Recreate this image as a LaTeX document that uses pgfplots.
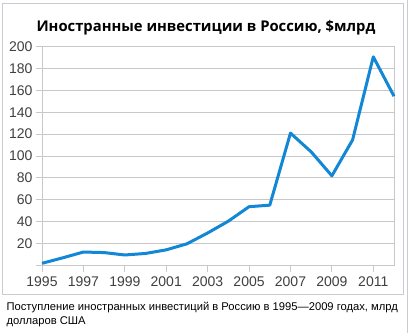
\documentclass[border=0pt]{standalone}
\usepackage{pgfplots}
\pgfplotsset{compat=1.18}
\usepackage{fontspec}
\setmainfont{Liberation Sans}
\newfontfamily\titlefont{Open Sans}
\definecolor{lineblue}{HTML}{1287D6}
\definecolor{gridgray}{HTML}{C8C8C8}
\definecolor{labelgray}{HTML}{404040}
\definecolor{framegray}{HTML}{C8CCD1}
\pgfplotstableread{
year value
1995 2.0
1996 7.0
1997 12.3
1998 11.8
1999 9.6
2000 11.0
2001 14.3
2002 19.8
2003 29.7
2004 40.5
2005 53.7
2006 55.1
2007 120.9
2008 103.8
2009 81.9
2010 114.7
2011 190.6
2012 154.6
}\datatable
\begin{document}
\begin{tikzpicture}
\fill[white] (0pt,0pt) rectangle (413pt,332pt);
\draw[framegray, line width=1pt] (2.5pt,38pt) rectangle (403pt,329pt);
\draw[framegray, line width=1pt] (407.5pt,0pt) -- (407.5pt,332pt);
\begin{axis}[
  at={(42pt,67pt)}, anchor=south west,
  scale only axis, width=352pt, height=219pt,
  xmin=1995, xmax=2012, ymin=0, ymax=200,
  xtick={1995,1997,...,2011},
  ytick={0,20,...,200},
  yticklabels={,20,40,60,80,100,120,140,160,180,200},
  tick align=outside, xtick pos=bottom, ytick pos=left,
  major tick length=6pt,
  ymajorgrids, grid style={gridgray, line width=0.9pt},
  axis line style={gridgray, line width=0.9pt},
  every tick/.style={gridgray, line width=0.9pt},
  tick label style={font=\fontsize{14}{16}\selectfont, text=labelgray},
  xticklabel style={yshift=-2pt},
  /pgf/number format/1000 sep={},
  /pgf/number format/assume math mode=true,
  clip=false,
]
\addplot[lineblue, line width=3pt, line join=round] table[x=year,y=value] {\datatable};
\end{axis}
\node[font=\titlefont\bfseries\fontsize{14.8}{17}\selectfont] at (206pt,305pt) {Иностранные инвестиции в Россию, \$млрд};
\node[anchor=west, font=\fontsize{11.2}{13.5}\selectfont] at (3pt,25pt) {Поступление иностранных инвестиций в Россию в 1995—2009 годах, млрд};
\node[anchor=west, font=\fontsize{11.2}{13.5}\selectfont] at (3pt,11pt) {долларов США};
\end{tikzpicture}
\end{document}
